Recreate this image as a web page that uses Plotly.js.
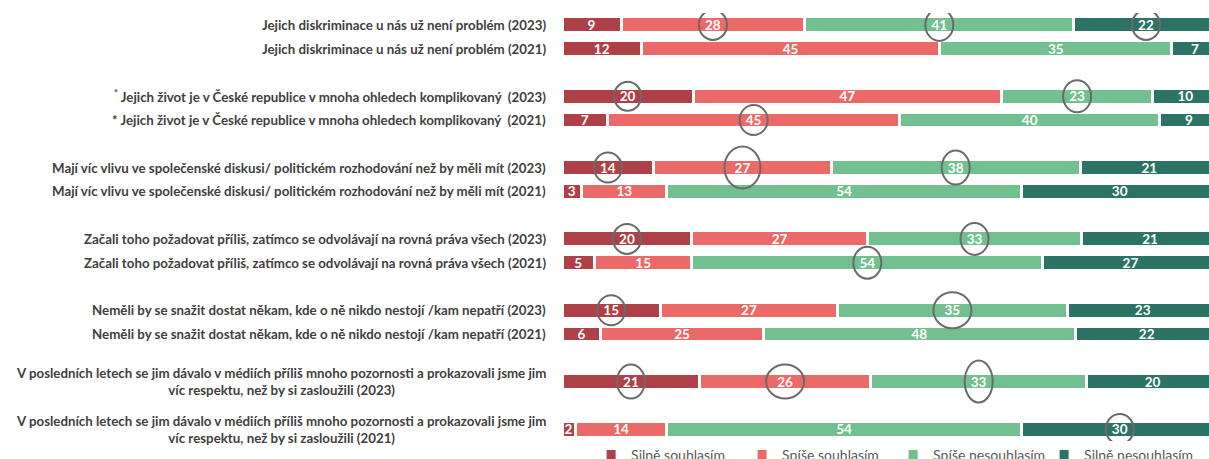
<!DOCTYPE html>
<html>
<head>
<meta charset="utf-8">
<script src="https://cdn.plot.ly/plotly-3.0.1.min.js"></script>
<style>html,body{margin:0;padding:0;background:#fff;}#chart{width:1209px;height:459px;}</style>
</head>
<body>
<div id="chart"></div>
<script>
// ---- data ----
const rowLabels = [
  "Jejich diskriminace u nás už není problém (2023)",
  "Jejich diskriminace u nás už není problém (2021)",
  "<sup>*</sup> Jejich život je v České republice v mnoha ohledech komplikovaný  (2023)",
  "* Jejich život je v České republice v mnoha ohledech komplikovaný  (2021)",
  "Mají víc vlivu ve společenské diskusi/ politickém rozhodování než by měli mít (2023)",
  "Mají víc vlivu ve společenské diskusi/ politickém rozhodování než by měli mít (2021)",
  "Začali toho požadovat příliš, zatímco se odvolávají na rovná práva všech (2023)",
  "Začali toho požadovat příliš, zatímco se odvolávají na rovná práva všech (2021)",
  "Neměli by se snažit dostat někam, kde o ně nikdo nestojí /kam nepatří (2023)",
  "Neměli by se snažit dostat někam, kde o ně nikdo nestojí /kam nepatří (2021)",
  "V posledních letech se jim dávalo v médiích příliš mnoho pozornosti a prokazovali jsme jim<br>víc respektu, než by si zasloužili (2023)",
  "V posledních letech se jim dávalo v médiích příliš mnoho pozornosti a prokazovali jsme jim<br>víc respektu, než by si zasloužili (2021)"
];
const seriesNames = ["Silně souhlasím", "Spíše souhlasím", "Spíše nesouhlasím", "Silně nesouhlasím"];
const silneSouhlasim    = [9, 12, 20, 7, 14, 3, 20, 5, 15, 6, 21, 2];
const spiseSouhlasim    = [28, 45, 47, 45, 27, 13, 27, 15, 27, 25, 26, 14];
const spiseNesouhlasim  = [41, 35, 23, 40, 38, 54, 33, 54, 35, 48, 33, 54];
const silneNesouhlasim  = [22, 7, 10, 9, 21, 30, 21, 27, 23, 22, 20, 30];
// highlighted (circled) values: [row index, series index]
const highlighted = [[0,1],[0,2],[0,3],[2,0],[2,2],[3,1],[4,0],[4,1],[4,2],[6,0],[6,2],[7,2],[8,0],[8,2],[10,0],[10,1],[10,2],[11,3]];

// ---- styles / layout helpers ----
const colors = ["#AE4048", "#EB6A68", "#72BF8F", "#2C7366"];
const circleSizes = [[28,30],[28,32],[28,30],[27,29],[28,32],[28,30],[28,30],[36,42],[28,34],[28,30],[28,32],[28,32],[28,30],[38,36],[28,34],[38,34],[28,42],[28,30]];
// category slots: spacer after every pair and between the last two rows
const rowSlots = [0,1,3,4,6,7,9,10,12,13,15,17];
const nSlots = 18;
const slotKeys = [];
for (let i = 0; i < nSlots; i++) slotKeys.push("slot" + i);
const rowKeys = rowSlots.map(s => slotKeys[s]);

const seriesValues = [silneSouhlasim, spiseSouhlasim, spiseNesouhlasim, silneNesouhlasim];

const traces = seriesValues.map((vals, i) => ({
  type: "bar",
  orientation: "h",
  name: seriesNames[i],
  y: rowKeys,
  x: vals,
  text: vals.map(String),
  texttemplate: "%{text}",
  textposition: "inside",
  insidetextanchor: "middle",
  textangle: 0,
  constraintext: "none",
  textfont: {family: "Lato, sans-serif", size: 13.5, color: "#ffffff", weight: "bold"},
  marker: {color: colors[i], line: {color: "#ffffff", width: 3}},
  hoverinfo: "skip"
}));

const annotations = rowLabels.map((t, r) => ({
  xref: "paper", yref: "y",
  x: -0.0215, y: rowKeys[r],
  xanchor: "right", yanchor: "middle",
  align: "center",
  text: "<b>" + t + "</b>",
  showarrow: false,
  font: {family: "Lato, sans-serif", size: 13.3, color: "#404040"}
}));

const shapes = highlighted.map(([r, s], k) => {
  const vals = seriesValues.map(v => v[r]);
  const total = vals.reduce((a, b) => a + b, 0);
  let cum = 0;
  for (let j = 0; j < s; j++) cum += vals[j];
  const center = (cum + vals[s] / 2) / total * 100;
  const [w, h] = circleSizes[k];
  return {
    type: "circle", layer: "above",
    xref: "x", yref: "y",
    xsizemode: "pixel", ysizemode: "pixel",
    xanchor: center, yanchor: rowKeys[r],
    x0: -w / 2, x1: w / 2, y0: -h / 2, y1: h / 2,
    line: {color: "#6a6a6a", width: 2}
  };
});

const layout = {
  width: 1209, height: 459,
  margin: {l: 562, r: 0, t: 13, b: 18, autoexpand: false},
  barmode: "stack",
  barnorm: "percent",
  bargap: 0.33,
  paper_bgcolor: "#ffffff",
  plot_bgcolor: "#ffffff",
  xaxis: {range: [0, 98.6], visible: false, fixedrange: true},
  yaxis: {
    type: "category",
    categoryorder: "array",
    categoryarray: slotKeys,
    range: [nSlots - 0.5, -0.5],
    showticklabels: false, showgrid: false, zeroline: false, showline: false, ticks: "",
    fixedrange: true
  },
  showlegend: true,
  legend: {
    orientation: "h",
    x: 0.045, xanchor: "left",
    y: 0.005, yanchor: "top",
    entrywidth: 106, entrywidthmode: "pixels",
    traceorder: "normal",
    font: {family: "Lato, sans-serif", size: 14, color: "#595959"},
    bgcolor: "rgba(0,0,0,0)"
  },
  annotations: annotations,
  shapes: shapes,
  hovermode: false
};

Plotly.newPlot("chart", traces, layout, {displayModeBar: false, staticPlot: true});
</script>
</body>
</html>
